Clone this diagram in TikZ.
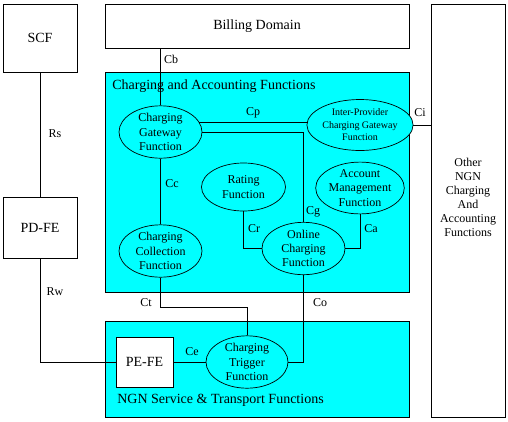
\documentclass[tikz,border=0pt]{standalone}
\usepackage{fontspec}
\setmainfont{Liberation Serif}
\usetikzlibrary{shapes.geometric}
\definecolor{areacyan}{RGB}{0,255,255}

\begin{document}
\begin{tikzpicture}[x=1pt, y=-1pt, line width=0.7pt,   % pixel coordinates, y downwards
	box/.style={draw, fill=white, inner sep=0pt, font=\fontsize{14}{16}\selectfont},
	area/.style={draw, fill=areacyan, inner sep=0pt},
	func/.style={draw, ellipse, fill=areacyan, inner sep=0pt, align=center, minimum width=83pt, minimum height=50pt, font=\fontsize{12}{14.3}\selectfont},
	lbl/.style={inner sep=0pt, font=\fontsize{12}{14}\selectfont}]
	\useasboundingbox (0,0) rectangle (508,421);
	% boxes
	\node[box, minimum width=74pt, minimum height=68pt] (scf) at (40,38) {SCF};
	\node[box, minimum width=74pt, minimum height=61pt] (pdfe) at (40,227.5) {PD-FE};
	\node[box, minimum width=304pt, minimum height=44pt] (billing) at (257,26) {Billing Domain};
	\node[box, minimum width=74pt, minimum height=413pt] (other) at (468,210.5) {};
	\node[lbl, align=center, font=\fontsize{12}{14}\selectfont] (othertxt) at (468,197.5) {Other\\NGN\\Charging\\And\\Accounting\\Functions};
	% areas
	\node[area, minimum width=304pt, minimum height=220pt] (caf) at (257,182) {};
	\node[area, minimum width=304pt, minimum height=96pt] (ngn) at (257,369) {};
	\node[anchor=base west, inner sep=0pt, font=\fontsize{14}{16}\selectfont] (caftxt) at (112,89) {Charging and Accounting Functions};
	\node[anchor=base west, inner sep=0pt, font=\fontsize{14}{16}\selectfont] (ngntxt) at (117,403) {NGN Service \& Transport Functions};
	% functions
	\node[func] (cgf) at (160.5,132) {Charging\\Gateway\\Function};
	\node[func, minimum width=82pt, minimum height=51pt, font=\fontsize{10}{12.5}\selectfont] (ipcgf) at (360,125) {Inter-Provider\\Charging Gateway\\Function};
	\node[func, minimum width=84pt, minimum height=48pt] (rating) at (243.5,187) {Rating\\Function};
	\node[func, minimum width=82pt] (am) at (360,188) {Account\\Management\\Function};
	\node[func, minimum height=52pt] (ccf) at (160.5,251) {Charging\\Collection\\Function};
	\node[func, minimum height=48pt] (ocf) at (303.5,248.5) {Online\\Charging\\Function};
	\node[func, minimum width=82pt] (ctf) at (247,362) {Charging\\Trigger\\Function};
	\node[box, minimum width=57pt, minimum height=50pt] (pefe) at (144.5,362) {PE-FE};
	% connectors
	\draw (scf.south) -- (pdfe.north);
	\draw (pdfe.south) |- (pefe.west);
	\draw (billing.south -| cgf.north) -- (cgf.north);
	\draw (cgf.14) -- (ipcgf.west |- cgf.14);
	\draw (ipcgf.east) -- (ipcgf.east -| other.west);
	\draw (cgf.east) -| (ocf.north);
	\draw (cgf.south) -- (ccf.north);
	\draw (rating.south) |- (ocf.west);
	\draw (am.south) |- (ocf.east);
	\draw (ccf.south) |- (ctf.north |- 0,307) -- (ctf.north);
	\draw (ocf.south) |- (ctf.east);
	\draw (pefe.east) -- (ctf.west);
	% labels
	\node[lbl] (rs) at (55,134) {Rs};
	\node[lbl] (rw) at (55,292) {Rw};
	\node[lbl] (cb) at (171,59) {Cb};
	\node[lbl] (cp) at (253,113) {Cp};
	\node[lbl] (ci) at (420,113) {Ci};
	\node[lbl] (cc) at (172,184) {Cc};
	\node[lbl] (cg) at (313,212) {Cg};
	\node[lbl] (cr) at (254,229) {Cr};
	\node[lbl] (ca) at (371,229) {Ca};
	\node[lbl] (ct) at (146,303) {Ct};
	\node[lbl] (co) at (320,303) {Co};
	\node[lbl] (ce) at (192,352) {Ce};
\end{tikzpicture}
\end{document}
